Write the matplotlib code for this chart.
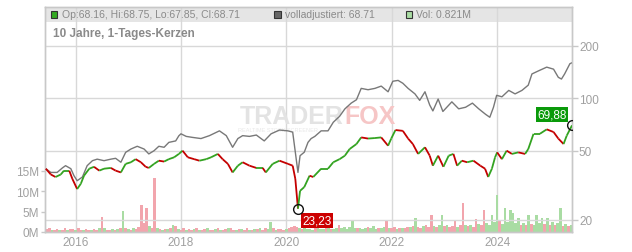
import numpy as np
import matplotlib
matplotlib.use('Agg')
import matplotlib.pyplot as plt
from matplotlib.collections import LineCollection
from matplotlib.patches import Rectangle

plt.rcParams['font.family'] = ['Liberation Sans', 'DejaVu Sans']

# price (decimal year, close)
price_t = [2015.435, 2015.53, 2015.62, 2015.72, 2015.78, 2015.88, 2015.94, 2016.03,
           2016.10, 2016.16, 2016.26, 2016.35, 2016.45, 2016.54, 2016.67, 2016.76,
           2016.86, 2016.95, 2017.05, 2017.14, 2017.24, 2017.33, 2017.39, 2017.49,
           2017.58, 2017.68, 2017.77, 2017.87, 2017.96, 2018.03, 2018.13, 2018.25,
           2018.35, 2018.48, 2018.57, 2018.70, 2018.79, 2018.89, 2018.98, 2019.08,
           2019.17, 2019.30, 2019.43, 2019.55, 2019.61, 2019.74, 2019.87, 2020.03,
           2020.12, 2020.17, 2020.22, 2020.26, 2020.34, 2020.44, 2020.51, 2020.66,
           2020.79, 2020.89, 2021.01, 2021.11, 2021.20, 2021.33, 2021.42, 2021.55,
           2021.68, 2021.80, 2021.93, 2021.99, 2022.07, 2022.21, 2022.31, 2022.40,
           2022.50, 2022.63, 2022.72, 2022.78, 2022.88, 2022.98, 2023.08, 2023.17,
           2023.24, 2023.33, 2023.43, 2023.55, 2023.68, 2023.77, 2023.83, 2023.90,
           2023.96, 2024.00, 2024.09, 2024.18, 2024.28, 2024.40, 2024.53, 2024.59,
           2024.69, 2024.81, 2024.94, 2025.07, 2025.16, 2025.26, 2025.32, 2025.42]
price_v = [39.4, 36.5, 35.3, 36.5, 38.4, 38.4, 34.4, 30.1,
           32.3, 35.9, 39.4, 40.4, 38.4, 39.4, 39.8, 38.4,
           37.5, 42.0, 42.9, 44.7, 42.9, 40.4, 39.8, 42.0,
           43.8, 43.3, 44.7, 45.8, 47.9, 50.0, 45.8, 44.7,
           43.8, 44.7, 45.8, 47.9, 44.7, 42.0, 37.5, 41.0,
           42.9, 41.0, 39.8, 39.8, 37.5, 42.0, 43.8, 42.0,
           41.0, 34.4, 23.23, 29.4, 30.9, 35.9, 35.3, 39.4,
           39.4, 42.9, 44.7, 46.8, 51.1, 54.6, 59.6, 58.7,
           59.1, 59.6, 53.4, 58.7, 65.7, 65.0, 58.7, 54.6,
           47.9, 52.3, 46.8, 41.0, 46.8, 40.4, 46.8, 47.9,
           41.0, 43.8, 42.9, 43.8, 41.0, 39.4, 35.3, 39.4,
           45.8, 48.9, 44.7, 50.0, 47.9, 48.9, 47.9, 51.1,
           62.5, 62.5, 66.3, 64.0, 58.7, 54.6, 61.0, 69.88]

# fully adjusted series (gray)
adj_t = [2015.435, 2015.53, 2015.65, 2015.75, 2015.81, 2015.91, 2015.97, 2016.03,
         2016.13, 2016.22, 2016.32, 2016.41, 2016.54, 2016.67, 2016.76, 2016.86,
         2016.95, 2017.05, 2017.17, 2017.30, 2017.39, 2017.49, 2017.58, 2017.68,
         2017.77, 2017.90, 2017.96, 2018.00, 2018.10, 2018.22, 2018.38, 2018.54,
         2018.73, 2018.86, 2018.98, 2019.08, 2019.17, 2019.30, 2019.43, 2019.58,
         2019.71, 2019.87, 2020.03, 2020.12, 2020.17, 2020.22, 2020.26, 2020.34,
         2020.41, 2020.47, 2020.54, 2020.66, 2020.79, 2020.89, 2021.01, 2021.11,
         2021.23, 2021.33, 2021.42, 2021.55, 2021.68, 2021.80, 2021.93, 2022.02,
         2022.12, 2022.21, 2022.31, 2022.44, 2022.53, 2022.63, 2022.72, 2022.78,
         2022.88, 2022.97, 2023.14, 2023.27, 2023.40, 2023.53, 2023.65, 2023.78,
         2023.86, 2023.93, 2023.99, 2024.09, 2024.22, 2024.34, 2024.47, 2024.59,
         2024.66, 2024.79, 2024.94, 2025.07, 2025.16, 2025.22, 2025.28, 2025.38,
         2025.42]
adj_v = [39.4, 37.5, 37.5, 39.8, 41.0, 39.4, 35.9, 33.6,
         35.3, 41.0, 43.8, 44.7, 43.8, 44.7, 45.2, 42.9,
         48.9, 51.1, 53.0, 51.1, 47.9, 50.0, 53.0, 52.3,
         55.8, 56.9, 60.9, 62.5, 60.4, 59.6, 58.7, 61.0,
         65.0, 61.0, 52.3, 58.7, 61.0, 60.4, 61.5, 56.9,
         62.5, 65.7, 65.0, 63.9, 49.0, 37.5, 46.8, 49.0,
         55.8, 58.7, 60.4, 65.0, 65.0, 72.8, 78.8, 86.9,
         93.8, 98.1, 114, 112, 114, 117.5, 109, 125.3,
         126.7, 122, 114, 106, 97.3, 109, 91.5, 84.6,
         99, 84, 95.4, 87, 88.8, 93.8, 87, 80.9,
         77.8, 88.8, 104, 102, 111, 106, 111, 119,
         138, 144, 151, 147, 132, 129, 138, 158,
         160]

# volume (million shares), one bar every 0.05 year from 2015.45
vol_m = [0.7, 0.9, 0.6, 0.5, 0.8, 0.6, 0.4, 0.9, 0.6, 0.7,
         0.8, 0.5, 1.0, 0.6, 0.4, 0.7, 0.5, 0.6, 0.8, 0.5,
         0.9, 3.7, 1.0, 0.6, 0.5, 0.7, 0.6, 0.8, 0.9, 5.2,
         1.1, 0.7, 0.6, 0.9, 0.8, 1.2, 6.7, 2.3, 5.8, 1.5,
         1.0, 13.2, 0.9, 0.7, 0.6, 0.8, 0.7, 0.9, 1.8, 1.5,
         0.7, 0.6, 0.9, 0.5, 0.8, 0.6, 0.7, 1.0, 0.6, 0.5,
         0.7, 0.9, 0.5, 0.6, 0.8, 1.1, 0.6, 0.5, 0.7, 0.9,
         1.0, 0.6, 0.5, 0.8, 0.7, 0.6, 0.9, 0.5, 0.6, 0.8,
         0.7, 0.9, 0.6, 1.0, 0.8, 2.5, 0.9, 0.6, 0.7, 0.8,
         0.6, 0.7, 0.9, 1.2, 1.5, 1.3, 1.0, 0.8, 0.9, 0.7,
         0.8, 0.6, 0.9, 1.0, 0.7, 0.8, 1.1, 0.9, 0.7, 0.8,
         1.0, 1.8, 0.9, 1.2, 0.8, 1.3, 2.7, 1.0, 0.9, 1.1,
         0.8, 1.0, 1.2, 0.9, 1.4, 0.8, 1.0, 1.1, 1.3, 2.9,
         1.0, 0.9, 1.2, 0.8, 1.1, 1.0, 0.9, 1.3, 1.2, 1.5,
         3.5, 1.2, 1.0, 1.4, 1.8, 1.3, 4.1, 1.5, 1.2, 1.6,
         4.3, 1.4, 1.8, 1.2, 1.5, 2.9, 1.3, 1.6, 7.2, 1.8,
         1.4, 1.7, 1.3, 3.3, 1.9, 1.6, 5.3, 2.2, 1.8, 4.3,
         2.5, 9.0, 2.8, 2.0, 5.9, 2.4, 5.3, 4.6, 2.1, 3.5,
         1.8, 2.3, 1.6, 4.1, 2.0, 1.7, 4.3, 2.2, 3.5, 1.9,
         3.5, 1.6, 2.5, 1.8, 2.2, 6.0, 1.5, 2.0, 1.4, 1.7]
vol_dir = ('rrgrrgrrgr' 'rgrrgrrgrr' 'grgrrgrgrg' 'rgrgrrrrrg' 'rrgrgrgrgr'
           'grrgrrgrgr' 'rgrrgrgrrg' 'rrgrgrrgrg' 'rgrrggrgrr' 'rgrrrrgrgg'
           'ggrgggrgrg' 'grggggggrg' 'ggrgggrggr' 'grrgrgrrgr' 'grrgrrrgrg'
           'grgrrrgrrg' 'rgrrgrrggg' 'ggrggggggg' 'rgrgrggggr' 'grgrggrgrg')
vol_t = 2015.45 + 0.05*np.arange(len(vol_m))

years = [2016, 2018, 2020, 2022, 2024]
price_ticks = [20, 50, 100, 200]
vol_ticks = [0, 5, 10, 15]

# initialize figure
W, H = 632.0, 253.0
fig = plt.figure(figsize=(W/100, H/100), dpi=100)
x0, x1, y0, y1 = 45.0, 572.0, 8.0, 233.0
vol = fig.add_axes([x0/W, 1-y1/H, (x1-x0)/W, (y1-y0)/H])
ax = vol.twinx()
ax.set_zorder(vol.get_zorder()+1)
ax.patch.set_visible(False)

gc, tc = '#d8d8d8', '#a0a0a0'

# header band
vol.add_patch(Rectangle((0, 1-14.5/225), 1, 14.5/225, transform=vol.transAxes,
                        fc='#e5e5e5', ec='none', zorder=0.1))

# volume bars
vcol = ['#a9dca3' if d == 'g' else '#f2a5ad' for d in vol_dir]
vol.bar(vol_t, vol_m, width=0.05, color=vcol, lw=0, zorder=1)
vol.set_ylim(0, 55.3)
vol.set_yticks(vol_ticks)
vol.set_yticklabels(['%dM' % v for v in vol_ticks])

# adjusted line and price segments
ax.plot(adj_t, adj_v, color='#787878', lw=1.0, zorder=2)
pts = np.column_stack([price_t, price_v])
segs = np.stack([pts[:-1], pts[1:]], axis=1)
pcol = ['#33a321' if b >= a else '#c40000' for a, b in zip(price_v[:-1], price_v[1:])]
ax.add_collection(LineCollection(segs, colors=pcol, lw=1.3, zorder=3))

# low and last markers with labels
ilow = int(np.argmin(price_v))
ax.plot([price_t[ilow], price_t[-1]], [price_v[ilow], price_v[-1]], 'o', mfc='none',
        mec='#111111', ms=7, mew=1.0, zorder=4)
ax.annotate(('%.2f' % price_v[ilow]).replace('.', ','), (price_t[ilow], price_v[ilow]),
            xytext=(19, -12), textcoords='offset pixels', ha='center', va='center',
            color='w', fontsize=8.5,
            bbox=dict(boxstyle='square,pad=0.15', fc='#cc0000', ec='none'))
ax.annotate(('%.2f' % price_v[-1]).replace('.', ','), (price_t[-1], price_v[-1]),
            xytext=(-20, 11), textcoords='offset pixels', ha='center', va='center',
            color='w', fontsize=8.5,
            bbox=dict(boxstyle='square,pad=0.15', fc='#0a9a0a', ec='none'))

# set axes properties
ax.set_yscale('log')
ax.set_ylim(17.05, 334.6)
ax.set_yticks(price_ticks)
ax.set_yticklabels([str(v) for v in price_ticks])
ax.yaxis.set_minor_locator(matplotlib.ticker.NullLocator())
ax.set_xlim(2015.42, 2025.42)
vol.set_xticks(years)
vol.set_xticklabels([str(y) for y in years])
for a in (ax, vol):
    a.set_axisbelow(True)
    for s in a.spines.values():
        s.set_color('#c8c8c8')
        s.set_linewidth(1.0)
ax.grid(axis='y', color=gc, lw=1.0)
vol.grid(axis='x', color=gc, lw=1.0)
ax.tick_params(axis='y', colors=tc, labelsize=8.5, length=4, width=1, pad=1)
ax.tick_params(axis='y', which='both', color='#c8c8c8')
vol.tick_params(axis='y', colors=tc, labelsize=8.5, length=3, width=1, pad=1)
vol.tick_params(axis='y', color='#c8c8c8')
vol.tick_params(axis='x', colors=tc, labelsize=8.5, length=0, pad=3)

# watermark
ax.text((344-x0)/(x1-x0), (y1-117)/(y1-y0), 'TRADER', transform=ax.transAxes,
        ha='right', va='center', fontsize=18, fontweight='bold', color='#e3e3e3', zorder=1)
ax.text((344-x0)/(x1-x0), (y1-117)/(y1-y0), 'FOX', transform=ax.transAxes,
        ha='left', va='center', fontsize=18, fontweight='bold', color='#f6c6c6', zorder=1)
ax.text((238-x0)/(x1-x0), (y1-131)/(y1-y0), 'REALTIME STOCK SCREENER',
        transform=ax.transAxes, ha='left', va='center', fontsize=4,
        color='#e8e8e8', zorder=1)

# header legend and title
def box(x, y, fc):
    fig.add_artist(Rectangle((x/W, 1-(y+6.5)/H), 6.5/W, 6.5/H,
                             transform=fig.transFigure, fc=fc, ec='#333333', lw=0.8))

box(50.5, 12, '#33aa22')
box(274, 12, '#666666')
box(405.5, 12, '#a9dca3')
hc = '#8a8a8a'
fig.text(62/W, 1-15.5/H, 'Op:68.16, Hi:68.75, Lo:67.85, Cl:68.71',
         fontsize=7.5, color=hc, va='center')
fig.text(285/W, 1-15.5/H, 'volladjustiert: 68.71', fontsize=7.5, color=hc, va='center')
fig.text(416/W, 1-15.5/H, 'Vol: 0.821M', fontsize=7.5, color=hc, va='center')
fig.text(53/W, 1-33.5/H, '10 Jahre, 1-Tages-Kerzen', fontsize=8.5,
         fontweight='bold', color=hc, va='center')

# save
fig.savefig('out.png', dpi=100)
